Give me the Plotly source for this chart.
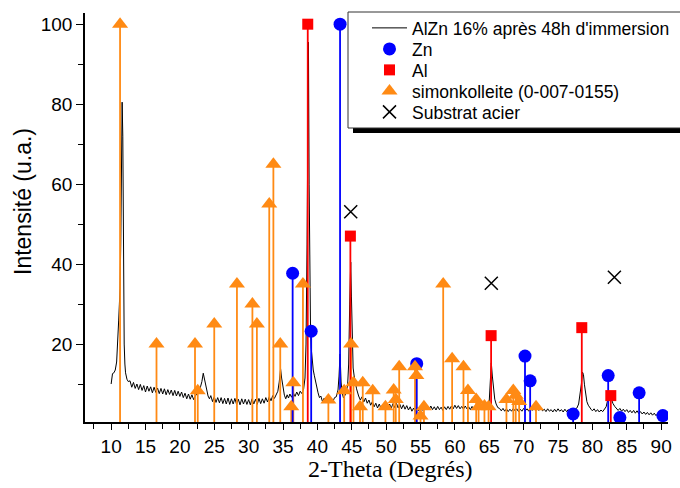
import plotly.graph_objects as go

# ---------------- data ----------------
# measured XRD pattern (2-theta, intensity)
tt = [10.0, 10.1, 10.2, 10.4, 10.6, 10.8, 10.95, 11.1, 11.2, 11.3, 11.4, 11.5, 11.6, 11.7, 11.75, 11.8, 11.9, 12.0, 12.1, 12.3, 12.5,
      12.75, 13.0, 13.25, 13.5, 13.75, 14.0, 14.25, 14.5, 14.75, 15.0, 15.25, 15.5, 15.75, 16.0, 16.25, 16.5, 16.75, 17.0, 17.25, 17.5,
      17.75, 18.0, 18.25, 18.5, 18.75, 19.0, 19.25, 19.5, 19.75, 20.0, 20.25, 20.5, 20.75, 21.0, 21.25, 21.5, 21.75, 22.0, 22.25,
      22.5, 22.75, 23.0, 23.2, 23.4, 23.55, 23.7, 23.9, 24.1, 24.3, 24.5, 24.75, 25.0, 25.25, 25.5, 25.75, 26.0, 26.25, 26.5, 26.75,
      27.0, 27.25, 27.5, 27.75, 28.0, 28.25, 28.5, 28.75, 29.0, 29.25, 29.5, 29.75, 30.0, 30.25, 30.5, 30.75, 31.0, 31.25, 31.5, 31.75,
      32.0, 32.25, 32.5, 32.75, 33.0, 33.25, 33.5, 33.75, 34.0, 34.25, 34.45, 34.65, 34.8, 35.0, 35.2, 35.4, 35.6, 35.8, 36.0, 36.25,
      36.5, 36.75, 37.0, 37.25, 37.5, 37.75, 38.0, 38.2, 38.35, 38.5, 38.6, 38.7, 38.8, 38.9, 39.0, 39.1, 39.25, 39.4, 39.55, 39.7,
      39.9, 40.1, 40.3, 40.5, 40.75, 41.0, 41.25, 41.5, 41.75, 42.0, 42.25, 42.5, 42.75, 43.0, 43.15, 43.3, 43.45, 43.6, 43.8, 44.0,
      44.2, 44.4, 44.55, 44.7, 44.85, 44.95, 45.05, 45.2, 45.35, 45.5, 45.7, 46.0, 46.25, 46.5, 46.75, 47.0, 47.25, 47.5, 47.75, 48.0,
      48.25, 48.5, 48.75, 49.0, 49.25, 49.5, 49.75, 50.0, 50.25, 50.5, 50.75, 51.0, 51.25, 51.5, 51.75, 52.0, 52.25, 52.5, 52.75, 53.0,
      53.25, 53.5, 53.75, 54.0, 54.25, 54.5, 54.75, 55.0, 55.25, 55.5, 55.75, 56.0, 56.25, 56.5, 56.75, 57.0, 57.25, 57.5, 57.75, 58.0,
      58.25, 58.5, 58.75, 59.0, 59.25, 59.5, 59.75, 60.0, 60.25, 60.5, 60.75, 61.0, 61.25, 61.5, 61.75, 62.0, 62.25, 62.5, 62.75, 63.0,
      63.25, 63.5, 63.75, 64.0, 64.25, 64.5, 64.75, 65.0, 65.15, 65.3, 65.45, 65.6, 65.8, 66.0, 66.25, 66.5, 66.75, 67.0, 67.25, 67.5,
      67.75, 68.0, 68.25, 68.5, 68.75, 69.0, 69.25, 69.5, 69.75, 70.0, 70.25, 70.5, 70.75, 71.0, 71.25, 71.5, 71.75, 72.0, 72.25, 72.5,
      72.75, 73.0, 73.25, 73.5, 73.75, 74.0, 74.25, 74.5, 74.75, 75.0, 75.25, 75.5, 75.75, 76.0, 76.25, 76.5, 76.75, 77.0, 77.25, 77.5,
      77.75, 78.0, 78.2, 78.4, 78.55, 78.7, 78.85, 79.0, 79.2, 79.4, 79.6, 79.8, 80.0, 80.25, 80.5, 80.75, 81.0, 81.25, 81.5, 81.75,
      82.0, 82.2, 82.4, 82.6, 82.8, 83.0, 83.25, 83.5, 83.75, 84.0, 84.25, 84.5, 84.75, 85.0, 85.25, 85.5, 85.75, 86.0, 86.25, 86.5,
      86.75, 87.0, 87.25, 87.5, 87.75, 88.0, 88.25, 88.5, 88.75, 89.0, 89.25, 89.5, 89.75, 90.0]
counts = [10.0, 11.0, 12.6, 12.8, 13.5, 15.5, 19.5, 26, 30, 34, 45, 65, 80.5, 72, 55, 40, 20, 15, 12.8, 11.2, 10.6,
          10.8, 9.2, 10.4, 8.9, 10.0, 8.6, 9.9, 8.4, 9.6, 8.0, 9.5, 8.2, 9.3, 7.8, 9.2, 7.9, 9.0, 7.6, 8.9, 7.5,
          8.8, 7.3, 8.6, 7.4, 8.5, 7.1, 8.4, 7.0, 8.2, 6.9, 8.0, 6.6, 7.7, 6.3, 7.5, 6.2, 7.3, 6.1, 7.0,
          7.6, 8.2, 9.3, 10.6, 12.7, 11.5, 9.6, 8.0, 7.0, 6.3, 7.1, 5.6, 6.8, 5.4, 6.6, 5.3, 6.6, 5.1, 6.4, 5.0,
          6.5, 4.9, 6.3, 5.0, 6.4, 4.9, 6.2, 4.8, 6.3, 5.0, 6.2, 4.9, 6.1, 4.8, 6.3, 5.0, 6.2, 4.9, 6.4, 5.1,
          6.3, 5.2, 6.6, 5.5, 6.8, 5.8, 7.1, 6.4, 7.5, 8.2, 10.5, 13.8, 11.5, 8.8, 7.2, 6.3, 7.3, 6.5, 7.5, 6.7,
          7.8, 6.9, 8.0, 7.1, 8.2, 7.6, 8.8, 11.5, 20, 45, 75, 95.5, 60, 34, 24, 19, 15, 13.5, 12.2, 10.8,
          9.0, 7.8, 6.6, 7.0, 5.6, 6.5, 5.4, 6.4, 5.5, 6.5, 5.6, 6.6, 6.8, 8.5, 12, 17.5, 10.5, 7.8, 6.5, 7.2,
          7.8, 9.8, 15, 30, 40.5, 32, 20, 14, 12, 10.2, 8.8, 7.0, 6.0, 6.8, 5.5, 6.5, 5.2, 6.0, 4.7, 5.6,
          4.3, 5.2, 4.0, 5.0, 3.9, 4.9, 3.9, 4.9, 3.8, 5.0, 4.0, 5.1, 4.1, 5.2, 4.0, 4.9, 3.8, 4.8, 3.7, 4.6,
          3.5, 4.3, 3.2, 4.0, 3.1, 4.1, 3.3, 4.3, 3.4, 4.4, 3.5, 4.5, 3.6, 4.5, 3.6, 4.3, 3.5, 4.4, 3.6, 4.2,
          3.4, 4.3, 3.6, 4.4, 3.7, 4.5, 3.8, 4.7, 3.9, 4.6, 3.8, 4.4, 3.7, 4.5, 3.8, 4.3, 3.6, 4.4, 3.7, 4.5,
          3.8, 4.4, 3.8, 4.6, 3.9, 4.5, 4.7, 5.8, 9.5, 15.3, 12.0, 8.4, 6.2, 5.0, 4.1, 3.9, 3.3, 3.9, 3.2, 3.8,
          3.1, 3.7, 3.2, 3.9, 3.3, 3.8, 3.1, 3.7, 3.2, 3.9, 3.3, 3.8, 3.2, 4.0, 3.4, 3.9, 3.3, 3.8, 3.4, 4.0,
          3.3, 3.7, 3.1, 3.8, 3.2, 3.6, 3.0, 3.7, 3.1, 3.8, 3.2, 3.6, 3.0, 3.7, 3.1, 3.6, 2.9, 3.5, 3.1, 3.7,
          4.0, 5.0, 7.2, 10.0, 13.0, 12.4, 9.8, 7.3, 5.6, 4.7, 4.0, 3.7, 3.3, 3.8, 3.1, 3.6, 3.0, 3.5, 3.1, 3.6,
          4.3, 5.8, 7.8, 7.0, 5.9, 5.1, 4.4, 4.0, 3.4, 3.9, 3.2, 3.7, 3.1, 3.6, 2.9, 3.4, 2.8, 3.4, 2.7, 3.3,
          2.6, 3.1, 2.5, 3.0, 2.4, 2.9, 2.3, 2.8, 2.2, 2.7, 2.1, 2.6, 2.0, 2.4]

# reference lines: Zn
zn_x = [36.4, 39.1, 43.3, 54.45, 70.2, 70.95, 77.2, 82.3, 84.0, 86.8, 90.25]
zn_y = [37.7, 23.2, 100, 15.1, 17.0, 10.8, 2.5, 12.1, 1.6, 7.8, 2.1]

# reference lines: Al
al_x = [38.6, 44.8, 65.27, 78.46, 82.68]
al_y = [100, 47.0, 22.1, 24.1, 7.1]

# reference lines: simonkolleite (0-007-0155)
sk_x = [11.3, 16.6, 22.2, 22.6, 25.0, 28.3, 30.55, 31.2, 33.0, 33.6, 34.6, 36.2, 36.5, 37.9,
        41.6, 43.9, 44.9, 45.25, 46.2, 46.6, 48.05, 49.9, 51.1, 51.4, 51.9, 54.2, 54.4, 55.0,
        55.5, 58.3, 59.6, 61.25, 61.9, 63.1, 63.45, 64.3, 64.9, 67.5, 68.5, 68.85, 69.35, 71.8]
sk_y = [100, 20, 20, 8.3, 25, 35, 30, 25, 55, 65, 20, 4.3, 10.3, 35,
        6.0, 8.3, 20, 10.3, 4.3, 10.3, 8.3, 4.3, 8.5, 6.1, 14.3, 14.3, 12.1, 2.0,
        4.3, 35, 16.3, 14.3, 8.4, 6.1, 4.3, 4.5, 4.3, 6.1, 8.4, 7.2, 5.6, 4.3]

# Substrat acier
sub_x = [44.85, 65.3, 83.2]
sub_y = [53.1, 35.2, 36.7]

ORANGE = "#FF8A14"
BLUE = "#0000FF"
RED = "#FF0000"


def sticks(xs, ys):
    sx, sy = [], []
    for a, b in zip(xs, ys):
        sx += [a, a, None]
        sy += [0, b, None]
    return sx, sy


fig = go.Figure()

fig.add_trace(go.Scatter(x=tt, y=counts, mode="lines", line=dict(color="black", width=1),
                         name="AlZn 16% après 48h d'immersion", legend="legend"))

for xs, ys, col in [(sk_x, sk_y, ORANGE), (zn_x, zn_y, BLUE), (al_x, al_y, RED)]:
    sx, sy = sticks(xs, ys)
    fig.add_trace(go.Scatter(x=sx, y=sy, mode="lines", line=dict(color=col, width=1.8),
                             showlegend=False, hoverinfo="skip"))

fig.add_trace(go.Scatter(x=zn_x, y=zn_y, mode="markers", name="Zn", legend="legend2",
                         marker=dict(symbol="circle", size=13, color=BLUE)))
fig.add_trace(go.Scatter(x=al_x, y=al_y, mode="markers", name="Al", legend="legend3",
                         marker=dict(symbol="square", size=11, color=RED)))
fig.add_trace(go.Scatter(x=sk_x, y=sk_y, mode="markers", name="simonkolleite (0-007-0155)",
                         legend="legend4",
                         marker=dict(symbol="triangle-up", size=14, color=ORANGE)))
fig.add_trace(go.Scatter(x=sub_x, y=sub_y, mode="markers", name="Substrat acier", legend="legend5",
                         marker=dict(symbol="x-thin-open", size=13, color="black",
                                     line=dict(color="black", width=1.5))))

L, R, T, B = 85, 12, 13, 66
W, H = 680, 488
pw, ph = W - L - R, H - T - B


def px2paper_x(px):
    return (px - L) / pw


def px2paper_y(py):
    return (H - B - py) / ph


# legend frame + shadow
fig.add_shape(type="rect", xref="paper", yref="paper",
              x0=px2paper_x(353), x1=px2paper_x(700), y0=px2paper_y(133), y1=px2paper_y(128),
              fillcolor="black", line=dict(width=0), layer="above")
fig.add_shape(type="rect", xref="paper", yref="paper",
              x0=px2paper_x(348), x1=px2paper_x(700), y0=px2paper_y(128), y1=px2paper_y(12),
              fillcolor="white", line=dict(color="#333333", width=1), layer="above")


def leg(py):
    return dict(x=px2paper_x(367), y=px2paper_y(py), xanchor="left", yanchor="middle",
                bgcolor="rgba(0,0,0,0)", borderwidth=0, font=dict(size=17.5),
                itemwidth=35)


fig.update_layout(
    width=W, height=H,
    margin=dict(l=L, r=R, t=T, b=B, autoexpand=False),
    paper_bgcolor="white", plot_bgcolor="white",
    font=dict(family="Arial, Liberation Sans, sans-serif", color="black", size=17),
    legend=leg(28), legend2=leg(49), legend3=leg(70), legend4=leg(91), legend5=leg(112),
    showlegend=True,
)

fig.update_xaxes(range=[6.2, 91.0], showline=True, linecolor="black", linewidth=1.5,
                 ticks="outside", ticklen=6, tickwidth=1.2, tickcolor="black",
                 tick0=0, dtick=5, showgrid=False, zeroline=False,
                 tickfont=dict(size=19), automargin=False,
                 minor=dict(dtick=2.5, ticks="outside", ticklen=5, tickwidth=1.2, tickcolor="black", showgrid=False))
fig.update_yaxes(range=[0.5, 102.8], showline=True, linecolor="black", linewidth=1.5,
                 ticks="outside", ticklen=7, tickwidth=1.2, tickcolor="black",
                 tick0=0, dtick=20, showgrid=False, zeroline=False,
                 tickfont=dict(size=19), automargin=False,
                 minor=dict(dtick=10, ticks="outside", ticklen=5, tickwidth=1.2, tickcolor="black", showgrid=False))

fig.add_annotation(text="2-Theta (Degrés)", xref="paper", yref="paper",
                   x=px2paper_x(390), y=px2paper_y(469), xanchor="center", yanchor="middle",
                   showarrow=False,
                   font=dict(family="Times New Roman, Liberation Serif, serif", size=24))
fig.add_annotation(text="Intensité (u.a.)", xref="paper", yref="paper",
                   x=px2paper_x(23), y=px2paper_y(202), xanchor="center", yanchor="middle",
                   showarrow=False, textangle=-90, font=dict(size=23))

fig.write_html("out.html", post_script="document.body.style.margin='0';",
               config={"displayModeBar": False})
